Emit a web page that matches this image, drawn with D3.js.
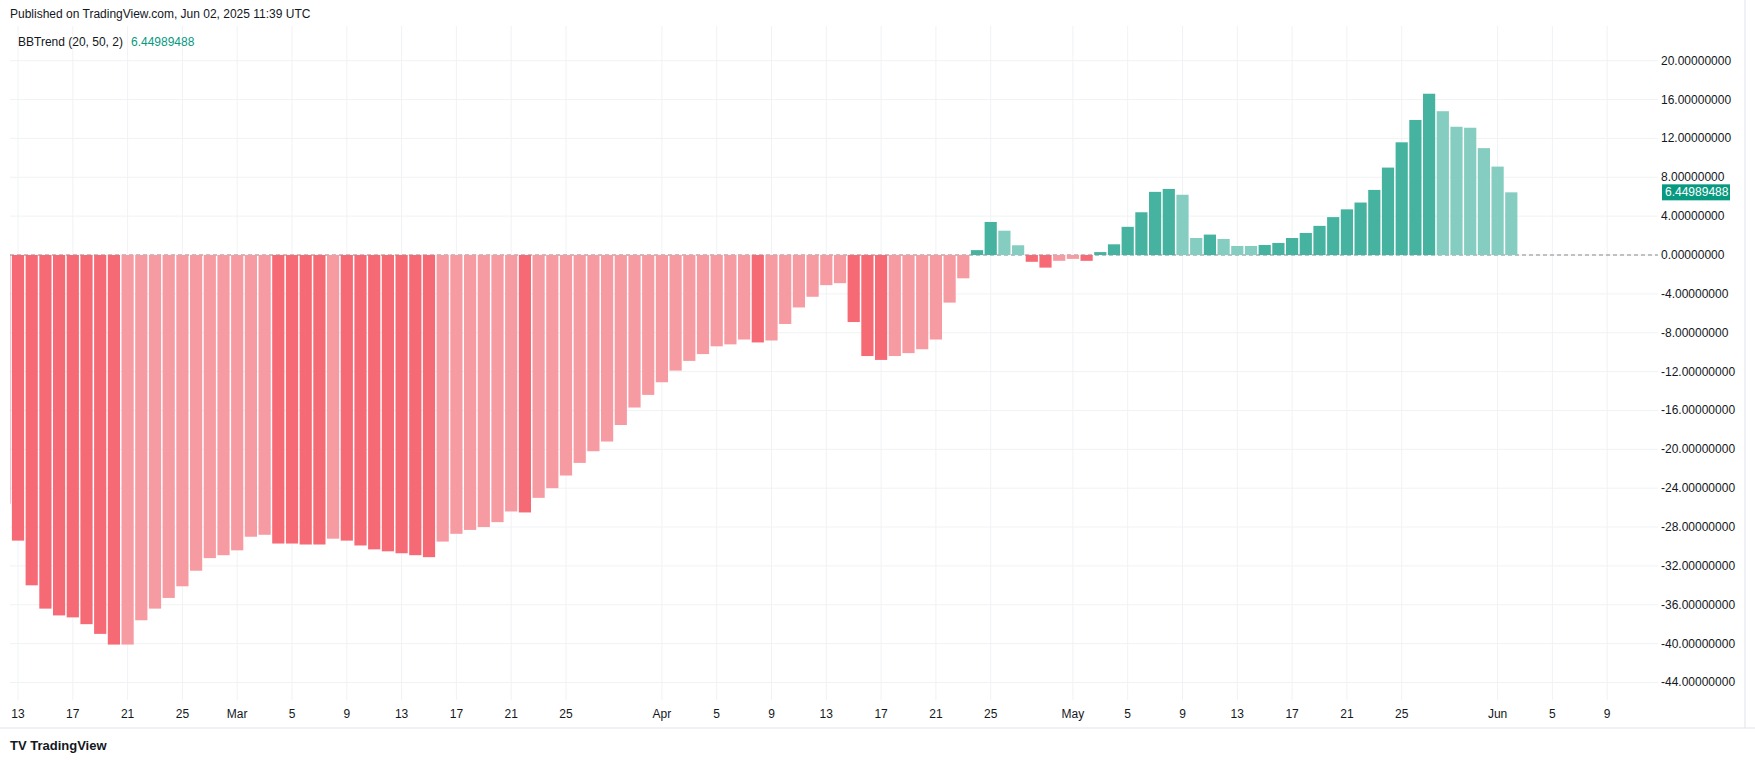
<!DOCTYPE html>
<html>
<head>
<meta charset="utf-8">
<script src="https://cdn.jsdelivr.net/npm/d3@7"></script>
<style>
  body { margin: 0; background: #fff; font-family: "Liberation Sans", Arial, sans-serif; }
  svg text { fill: #131722; }
</style>
</head>
<body>
<div id="chart"></div>
<script>
// BBTrend daily values, Feb 12 -> Jun 2 2025
const startDate = "2025-02-12";
const bbtrend = [
  -25.6, -29.4, -34.0, -36.4, -37.1, -37.3, -38.0, -39.0, -40.1, -40.1, -37.6, -36.4, -35.3, -34.1, -32.5, -31.2, -30.9,
  -30.4, -29.0, -28.8, -29.7, -29.7, -29.8, -29.8, -29.2, -29.4, -29.9, -30.3, -30.5, -30.7, -30.9, -31.1, -29.5,
  -28.7, -28.3, -28.0, -27.5, -26.4, -26.5, -25.0, -24.0, -22.7, -21.4, -20.2, -19.2, -17.5, -15.7, -14.4,
  -13.1, -11.9, -10.9, -10.2, -9.4, -9.2, -8.7, -9.0, -8.8, -7.1, -5.4, -4.3, -3.1, -2.9, -6.9, -10.4, -10.8,
  -10.4, -10.1, -9.7, -8.7, -4.9, -2.4, 0.5, 3.4, 2.5, 1.0, -0.7, -1.3, -0.6,
  -0.4, -0.6, 0.3, 1.1, 2.9, 4.4, 6.5, 6.8, 6.2, 1.75, 2.1, 1.65, 0.93, 0.93, 1.03, 1.24, 1.75, 2.27, 3.0, 3.9,
  4.7, 5.4, 6.7, 9.0, 11.6, 13.9, 16.6, 14.8, 13.2, 13.1, 11.0, 9.1, 6.45
];
// 1 = strong shade, 0 = faded shade, per month
const shadeFeb = "111111111" + "00000000";
const shadeMar = "000" + "1111" + "0" + "1111111" + "000000" + "1" + "000000000";
const shadeApr = "0000000" + "1" + "000000" + "111" + "000000" + "11" + "00" + "11" + "0";
const shadeMay = "0" + "1111111" + "00" + "1" + "000" + "1111111111111" + "0000";
const shadeJun = "00";
const shade = (shadeFeb + shadeMar + shadeApr + shadeMay + shadeJun).split("").map(Number);
const tickDates = ["2025-02-13","2025-02-17","2025-02-21","2025-02-25","2025-03-01","2025-03-05","2025-03-09",
  "2025-03-13","2025-03-17","2025-03-21","2025-03-25","2025-04-01","2025-04-05","2025-04-09","2025-04-13",
  "2025-04-17","2025-04-21","2025-04-25","2025-05-01","2025-05-05","2025-05-09","2025-05-13","2025-05-17",
  "2025-05-21","2025-05-25","2025-06-01","2025-06-05","2025-06-09"];
const yTicks = d3.range(-44, 21, 4);
const lastValueLabel = "6.44989488";

const width = 1755, height = 760;
const plotLeft = 10, plotRight = 1658, plotTop = 26, plotBottom = 700;
const parse = d3.utcParse("%Y-%m-%d");
const day = 24 * 3600 * 1000;
const t0 = parse(startDate);
const bars = bbtrend.map((v, i) => ({ date: new Date(t0.getTime() + i * day), value: v, strong: shade[i] }));

const svg = d3.select("#chart").append("svg").attr("width", width).attr("height", height);

const x = d3.scaleUtc().domain([parse("2025-02-13"), parse("2025-06-09")]).range([18, 18 + 116 * 13.7]);
const y = d3.scaleLinear().domain([0, 20]).range([255, 60.7]);
const barW = 12.2;

svg.append("defs").append("clipPath").attr("id", "plot")
  .append("rect").attr("x", plotLeft).attr("y", plotTop).attr("width", plotRight - plotLeft).attr("height", plotBottom - plotTop);

// grid
const grid = svg.append("g");
grid.selectAll("line.h").data(yTicks).enter().append("line")
  .attr("x1", plotLeft).attr("x2", plotRight).attr("y1", d => y(d)).attr("y2", d => y(d))
  .attr("stroke", "#f0f2f5");
grid.selectAll("line.v").data(tickDates).enter().append("line")
  .attr("x1", d => x(parse(d))).attr("x2", d => x(parse(d)))
  .attr("y1", plotTop).attr("y2", plotBottom).attr("stroke", "#f0f2f5");

// zero line
svg.append("line").attr("x1", plotLeft).attr("x2", plotRight).attr("y1", y(0)).attr("y2", y(0))
  .attr("stroke", "#888").attr("stroke-dasharray", "4 3");

const colour = d => d.value >= 0 ? (d.strong ? "#46b3a0" : "#84cdc0") : (d.strong ? "#f66a75" : "#f79ba3");
svg.append("g").attr("clip-path", "url(#plot)").selectAll("rect").data(bars).enter().append("rect")
  .attr("x", d => x(d.date) - barW / 2)
  .attr("width", barW)
  .attr("y", d => Math.min(y(d.value), y(0)))
  .attr("height", d => Math.abs(y(d.value) - y(0)))
  .attr("fill", colour);

// price axis
const yAxis = svg.append("g").attr("font-size", 12);
yAxis.selectAll("text").data(yTicks).enter().append("text")
  .attr("x", 1661).attr("y", d => y(d) + 4)
  .text(d => d.toFixed(8));

const last = bars[bars.length - 1];
svg.append("rect").attr("x", 1662).attr("y", y(last.value) - 8).attr("width", 68).attr("height", 16).attr("fill", "#089981");
svg.append("text").attr("x", 1665).attr("y", y(last.value) + 4).attr("font-size", 12)
  .style("fill", "#fff").text(lastValueLabel);

// time axis
const fmt = d => d.getUTCDate() === 1 ? d3.utcFormat("%b")(d) : d3.utcFormat("%-d")(d);
svg.append("g").attr("font-size", 12).selectAll("text").data(tickDates).enter().append("text")
  .attr("x", d => x(parse(d))).attr("y", 718).attr("text-anchor", "middle")
  .text(d => fmt(parse(d)));

svg.append("line").attr("x1", 0).attr("x2", width).attr("y1", 728).attr("y2", 728).attr("stroke", "#e0e3eb");
svg.append("line").attr("x1", 1745).attr("x2", 1745).attr("y1", 0).attr("y2", 728).attr("stroke", "#e0e3eb");

// header
svg.append("text").attr("x", 10).attr("y", 18).attr("font-size", 12).text("Published on TradingView.com, Jun 02, 2025 11:39 UTC");
const leg = svg.append("text").attr("x", 18).attr("y", 46).attr("font-size", 12);
leg.append("tspan").text("BBTrend (20, 50, 2)");
leg.append("tspan").attr("dx", 8).style("fill", "#089981").text(lastValueLabel);

// footer
svg.append("text").attr("x", 10).attr("y", 750).attr("font-size", 13).attr("font-weight", "bold").text("TV TradingView");
</script>
</body>
</html>
